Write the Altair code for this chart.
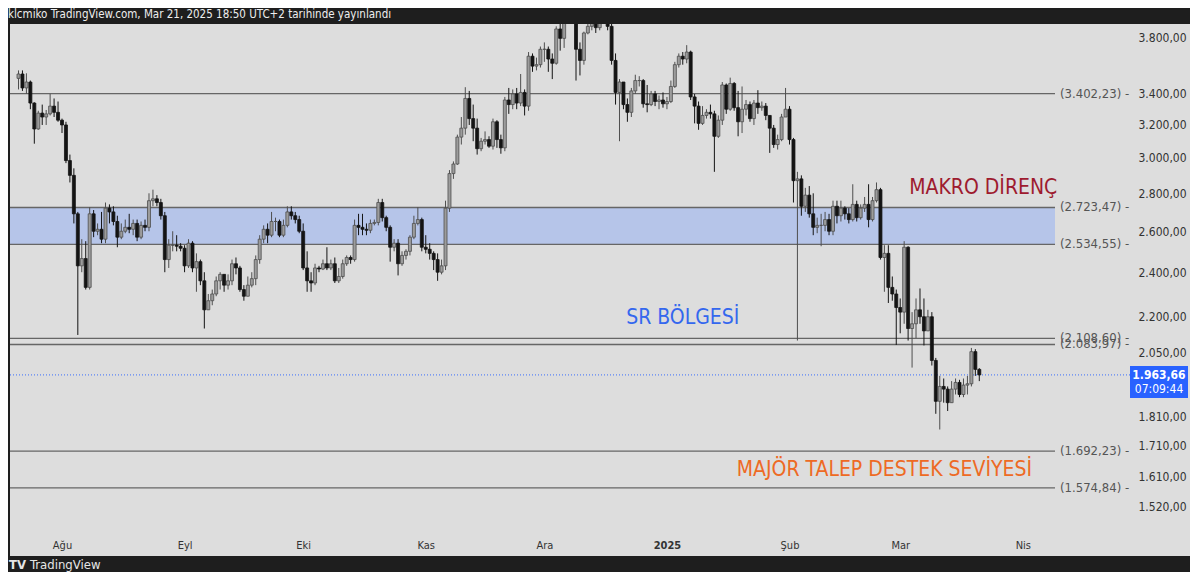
import altair as alt
import numpy as np
import pandas as pd

# ---------------- data (ETH daily candles) ----------------
first_open = 3505
jul_c = [3535, 3440, 3480, 3340, 3175, 3275, 3250, 3270, 3320, 3280, 3230]
jul_h = [3560, 3560, 3540, 3490, 3345, 3290, 3330, 3295, 3400, 3370, 3350]
jul_l = [3430, 3420, 3400, 3300, 3085, 3170, 3200, 3200, 3260, 3250, 3220]

aug_c = [3200, 2985, 2900, 2690, 2430, 2465, 2330, 2690, 2600, 2610, 2560, 2720, 2700, 2650, 2570, 2600,
         2620, 2610, 2640, 2570, 2630, 2620, 2760, 2770, 2750, 2680, 2460, 2530, 2530, 2525, 2515]
aug_h = [3240, 3220, 3020, 2940, 2700, 2560, 2550, 2725, 2710, 2640, 2700, 2750, 2740, 2730, 2680, 2640,
         2660, 2690, 2660, 2660, 2650, 2660, 2800, 2820, 2790, 2770, 2700, 2560, 2600, 2580, 2540]
aug_l = [3150, 2970, 2860, 2640, 2123, 2400, 2320, 2320, 2570, 2580, 2540, 2540, 2640, 2630, 2520, 2560,
         2590, 2590, 2580, 2550, 2560, 2600, 2600, 2730, 2730, 2660, 2400, 2420, 2500, 2500, 2500]

sep_c = [2430, 2540, 2420, 2450, 2360, 2230, 2270, 2300, 2360, 2390, 2340, 2360, 2440, 2420, 2320,
         2290, 2340, 2370, 2460, 2560, 2610, 2580, 2650, 2650, 2580, 2630, 2700, 2680, 2660, 2600]
sep_h = [2530, 2560, 2550, 2490, 2460, 2400, 2300, 2320, 2380, 2400, 2390, 2390, 2460, 2470, 2430,
         2340, 2380, 2400, 2480, 2580, 2630, 2640, 2700, 2670, 2660, 2660, 2730, 2730, 2700, 2680]
sep_l = [2400, 2420, 2400, 2310, 2340, 2150, 2230, 2250, 2290, 2320, 2310, 2320, 2340, 2390, 2310,
         2270, 2290, 2330, 2340, 2440, 2540, 2540, 2570, 2600, 2570, 2570, 2620, 2660, 2640, 2590]

oct_c = [2420, 2360, 2350, 2420, 2415, 2440, 2420, 2440, 2360, 2380, 2440, 2470, 2460, 2630, 2620, 2610,
         2605, 2640, 2645, 2750, 2670, 2620, 2520, 2540, 2440, 2480, 2500, 2570, 2640, 2660, 2520]
oct_h = [2640, 2500, 2400, 2440, 2430, 2460, 2520, 2460, 2470, 2420, 2460, 2480, 2480, 2660, 2690, 2690,
         2640, 2660, 2660, 2770, 2770, 2680, 2630, 2560, 2560, 2500, 2510, 2580, 2680, 2725, 2670]
oct_l = [2410, 2310, 2310, 2340, 2400, 2410, 2410, 2410, 2350, 2350, 2370, 2430, 2440, 2450, 2580, 2580,
         2580, 2590, 2630, 2630, 2650, 2600, 2450, 2500, 2385, 2430, 2460, 2480, 2560, 2630, 2500]

nov_c = [2510, 2490, 2460, 2400, 2430, 2720, 2910, 2965, 3125, 3180, 3370, 3240, 3180, 3055, 3100,
         3110, 3070, 3220, 3110, 3060, 3360, 3330, 3400, 3340, 3410, 3320, 3660, 3590, 3600, 3710]
nov_h = [2580, 2540, 2500, 2490, 2460, 2760, 2930, 2980, 3140, 3250, 3445, 3420, 3330, 3240, 3120,
         3160, 3130, 3240, 3230, 3140, 3380, 3440, 3430, 3440, 3535, 3430, 3690, 3680, 3650, 3730]
nov_l = [2490, 2460, 2410, 2360, 2390, 2410, 2700, 2880, 2960, 3080, 3140, 3200, 3100, 3020, 3040,
         3080, 3060, 3050, 3060, 3025, 3040, 3270, 3300, 3300, 3320, 3260, 3290, 3550, 3560, 3580]

dec_c = [3710, 3640, 3610, 3860, 3790, 4000, 3990, 4010, 3710, 3630, 3830, 3880, 3910, 3870, 3960, 3990,
         3880, 3630, 3410, 3480, 3330, 3280, 3420, 3490, 3490, 3335, 3330, 3400, 3350, 3360, 3335]
dec_h = [3760, 3730, 3680, 3880, 3940, 4080, 4020, 4010, 4000, 3760, 3840, 3940, 3950, 3940, 3980, 4100,
         4000, 3900, 3680, 3500, 3480, 3370, 3440, 3530, 3520, 3500, 3460, 3420, 3420, 3390, 3410]
dec_l = [3620, 3550, 3500, 3600, 3700, 3720, 3960, 3900, 3490, 3525, 3600, 3820, 3850, 3830, 3850, 3940,
         3850, 3600, 3330, 3100, 3300, 3220, 3250, 3400, 3450, 3310, 3280, 3320, 3320, 3300, 3310]

jan_c = [3350, 3450, 3600, 3660, 3640, 3690, 3380, 3320, 3210, 3260, 3280, 3270, 3130, 3230, 3460, 3300,
         3470, 3310, 3220, 3300, 3330, 3240, 3340, 3310, 3320, 3260, 3180, 3080, 3110, 3250, 3300]
jan_h = [3380, 3490, 3620, 3680, 3690, 3740, 3700, 3400, 3350, 3320, 3300, 3330, 3290, 3260, 3480, 3470,
         3510, 3480, 3420, 3450, 3360, 3350, 3360, 3425, 3350, 3340, 3260, 3200, 3140, 3270, 3440]
jan_l = [3300, 3340, 3440, 3580, 3600, 3610, 3360, 3210, 3170, 3200, 3240, 3240, 2920, 3120, 3200, 3270,
         3290, 3290, 3130, 3150, 3260, 3220, 3200, 3270, 3290, 3230, 3030, 3060, 3050, 3100, 3250]

feb_c = [3110, 2870, 2880, 2730, 2790, 2690, 2620, 2630, 2630, 2660, 2600, 2730, 2680, 2720,
         2690, 2660, 2740, 2670, 2720, 2740, 2660, 2760, 2820, 2470, 2490, 2330, 2300, 2240]
feb_h = [3320, 3120, 2920, 2900, 2830, 2840, 2800, 2670, 2690, 2700, 2690, 2760, 2760, 2760,
         2730, 2720, 2850, 2760, 2740, 2780, 2850, 2780, 2860, 2830, 2530, 2530, 2380, 2320]
feb_l = [3080, 2750, 2100, 2680, 2700, 2670, 2580, 2590, 2525, 2600, 2580, 2580, 2640, 2650,
         2660, 2640, 2650, 2650, 2660, 2700, 2620, 2650, 2750, 2460, 2310, 2260, 2270, 2082]

mar_c = [2220, 2520, 2150, 2170, 2230, 2200, 2140, 2200, 2020, 1865, 1920, 1910, 1860, 1910, 1935,
         1890, 1925, 1930, 2055, 1985, 1963.66]
mar_h = [2280, 2550, 2525, 2220, 2280, 2325, 2280, 2230, 2220, 2030, 1960, 1950, 1920, 1940, 1950,
         1945, 1950, 1960, 2070, 2065, 1990]
mar_l = [2130, 2170, 2100, 1992, 2110, 2170, 2080, 2180, 2000, 1820, 1765, 1860, 1830, 1860, 1890,
         1880, 1880, 1890, 1920, 1960, 1940]

levels = [3402.23, 2723.47, 2534.55, 2108.60, 2083.97, 1692.23, 1574.84]
band = [2534.55, 2723.47]
last_price = 1963.66
countdown = "07:09:44"
price_ticks = [3800, 3400, 3200, 3000, 2800, 2600, 2400, 2200, 2050, 1810, 1710, 1610, 1520]
month_starts = ["2024-08-01", "2024-09-01", "2024-10-01", "2024-11-01", "2024-12-01",
                "2025-01-01", "2025-02-01", "2025-03-01", "2025-04-01"]
ann_text = ["MAKRO DİRENÇ", "SR BÖLGESİ", "MAJÖR TALEP DESTEK SEVİYESİ"]
ann_date = ["2025-03-22", "2025-01-05", "2025-02-25"]
ann_price = [2830, 2195, 1631]
ann_color = ["#9e1b2f", "#3467ee", "#ee6a24"]
header = "klcmiko TradingView.com, Mar 21, 2025 18:50 UTC+2 tarihinde yayınlandı"

# ---------------- build tables ----------------
close = jul_c + aug_c + sep_c + oct_c + nov_c + dec_c + jan_c + feb_c + mar_c
high = jul_h + aug_h + sep_h + oct_h + nov_h + dec_h + jan_h + feb_h + mar_h
low = jul_l + aug_l + sep_l + oct_l + nov_l + dec_l + jan_l + feb_l + mar_l
dates = pd.date_range("2024-07-21", "2025-03-21", freq="D")
assert len(close) == len(high) == len(low) == len(dates)
opn = [first_open] + close[:-1]

df = pd.DataFrame({"date": dates.strftime("%Y-%m-%d"), "open": opn, "high": high,
                   "low": low, "close": close})
df["high"] = df[["high", "open", "close"]].max(axis=1)
df["low"] = df[["low", "open", "close"]].min(axis=1)
df["dir"] = np.where(df["close"] >= df["open"], "up", "down")


def tr(v):
    s = f"{v:,.2f}"
    return s.replace(",", "#").replace(".", ",").replace("#", ".")


lv = pd.DataFrame({"price": levels, "label": [f"({tr(v)}) -" for v in levels]})
bd = pd.DataFrame({"lo": [band[0]], "hi": [band[1]]})
lp = pd.DataFrame({"price": [last_price], "t1": [tr(last_price)], "t2": [countdown]})
ann = pd.DataFrame({"date": ann_date, "price": ann_price, "label": ann_text})
hd = pd.DataFrame({"t": [header]})


def ms(s):
    return int(pd.Timestamp(s, tz="UTC").value // 10**6)


FONT = "Liberation Sans Narrow, DejaVu Sans Condensed, Roboto Condensed, Roboto, sans-serif"
PW, PH = 1180, 532      # light panel (plot + axes)
W, H = 1118, 506        # candle plot area
PX_PER_DAY = 3.995

d0, d1 = "2024-08-01", "2025-04-01"
span_days = (pd.Timestamp(d1) - pd.Timestamp(d0)).days
xscale = alt.Scale(type="utc", domain=[ms(d0), ms(d1)], range=[47, 47 + span_days * PX_PER_DAY], nice=False)
yscale = alt.Scale(type="log", domain=[1520, 3800], range=[482, 13], nice=False)

month_names = "['Oca','Şub','Mar','Nis','May','Haz','Tem','Ağu','Eyl','Eki','Kas','Ara']"
xaxis = alt.Axis(
    values=[ms(m) for m in month_starts], orient="bottom", ticks=False, domain=False,
    grid=False, labelPadding=9, labelFontSize=11, labelColor="#333333", labelFont=FONT,
    labelFlush=False, labelOverlap=False, title="", zindex=5,
    labelExpr=f"utcmonth(datum.value)==0 ? utcFormat(datum.value,'%Y') : {month_names}[utcmonth(datum.value)]",
    labelFontWeight={"condition": {"test": "utcmonth(datum.value)==0", "value": "bold"}, "value": "normal"},
)
yaxis = alt.Axis(
    values=price_ticks, orient="right", ticks=False, domain=False, grid=False,
    labelPadding=10, labelAlign="left", labelFontSize=12, labelColor="#333333", labelFont=FONT,
    title="", labelOverlap=False, labelFlush=False, zindex=5,
    labelExpr="replace(replace(replace(format(datum.value, ',.2f'), ',', '#'), '.', ','), '#', '.')",
)


def X(field):
    return alt.X(field, scale=xscale, axis=xaxis)


def Y(field):
    return alt.Y(field, scale=yscale, axis=yaxis)


dir_fill = alt.Color("dir:N", scale=alt.Scale(domain=["up", "down"], range=["#9c9c9c", "#141414"]), legend=None)
dir_stroke = alt.Color("dir:N", scale=alt.Scale(domain=["up", "down"], range=["#4e4e4e", "#141414"]), legend=None)

panel = alt.Chart(hd).mark_rect(color="#dddddd").encode(
    x=alt.value(0), x2=alt.value(PW), y=alt.value(0), y2=alt.value(PH))

band_layer = alt.Chart(bd).mark_rect(color="#b6c5e9").encode(
    x=alt.value(0), x2=alt.value(1045), y=Y("lo:Q"), y2="hi:Q")

level_rules = alt.Chart(lv).mark_rule(color="#666666", strokeWidth=1.3).encode(
    x=alt.value(0), x2=alt.value(1045), y=Y("price:Q"))

level_text = alt.Chart(lv).mark_text(align="left", baseline="middle", fontSize=13, color="#555555",
                                     font=FONT).encode(
    x=alt.value(1050), y=Y("price:Q"), text="label:N")

last_rule = alt.Chart(lp).mark_rule(color="#2962ff", strokeWidth=1, strokeDash=[1, 2], opacity=0.9).encode(
    x=alt.value(0), x2=alt.value(1120), y=Y("price:Q"))

wicks = alt.Chart(df).mark_rule(strokeWidth=1, clip=True).encode(
    x=X("date:T"), y=Y("low:Q"), y2="high:Q", color=dir_stroke)

bodies = alt.Chart(df).mark_bar(width=3, strokeWidth=0.8, clip=True).encode(
    x=X("date:T"), y=Y("open:Q"), y2="close:Q", fill=dir_fill, stroke=dir_stroke)

ann_layer = alt.Chart(ann).mark_text(align="center", baseline="middle", fontSize=21, font=FONT).encode(
    x=X("date:T"), y=Y("price:Q"), text="label:N",
    color=alt.Color("label:N", scale=alt.Scale(domain=ann_text, range=ann_color), legend=None))

lp_box = alt.Chart(lp).mark_rect(color="#2962ff", yOffset=-9, y2Offset=23).encode(
    x=alt.value(1120), x2=alt.value(1178), y=Y("price:Q"), y2="price:Q")
lp_t1 = alt.Chart(lp).mark_text(align="center", baseline="middle", fontSize=12, color="white",
                                fontWeight="bold", font=FONT).encode(
    x=alt.value(1149), y=Y("price:Q"), text="t1:N")
lp_t2 = alt.Chart(lp).mark_text(align="center", baseline="middle", fontSize=12, color="white",
                                dy=14, font=FONT).encode(
    x=alt.value(1149), y=Y("price:Q"), text="t2:N")

head = alt.Chart(hd).mark_text(align="left", baseline="middle", fontSize=11.5, color="#eeeeee",
                               font=FONT).encode(x=alt.value(-2), y=alt.value(-9), text="t:N")
logo_icon = alt.Chart(hd).mark_text(align="left", baseline="middle", fontSize=13, color="#e6e6e6",
                                    fontWeight="bold", font=FONT).encode(
    x=alt.value(-1), y=alt.value(PH + 9), text=alt.value("TV"))
logo_text = alt.Chart(hd).mark_text(align="left", baseline="middle", fontSize=13, color="#e6e6e6",
                                    font=FONT).encode(
    x=alt.value(20), y=alt.value(PH + 9), text=alt.value("TradingView"))

chart = alt.layer(
    panel, band_layer, level_rules, last_rule, wicks, bodies, level_text, ann_layer,
    lp_box, lp_t1, lp_t2, head, logo_icon, logo_text,
).resolve_scale(color="independent").properties(
    width=W, height=H,
    padding={"left": 2, "top": 16, "right": PW - W, "bottom": 564 - 16 - H},
    autosize=alt.AutoSizeParams(type="none"),
    background="#1e1e1e",
).configure_view(strokeWidth=0)

chart.save("out.html", embed_options={"renderer": "svg", "actions": False})
